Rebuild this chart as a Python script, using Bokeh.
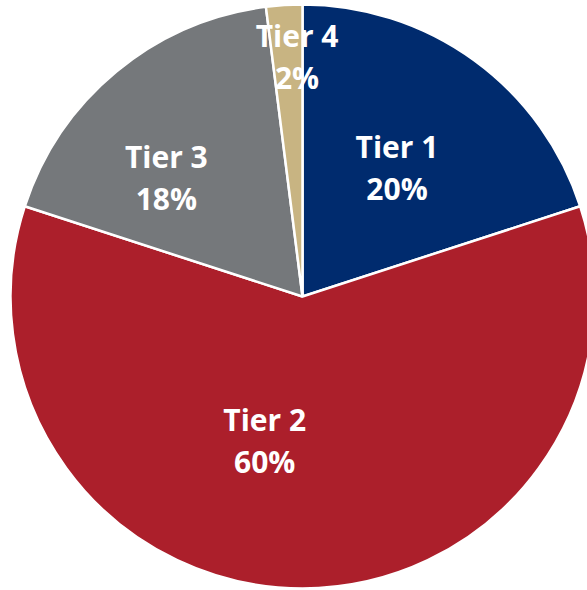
import math
from bokeh.plotting import figure
from bokeh.models import Range1d, ColumnDataSource
from bokeh.core.properties import value
from bokeh.embed import file_html
from bokeh.resources import INLINE

# ---- data ----
categories = ["Tier 1", "Tier 2", "Tier 3", "Tier 4"]
shares = [20, 60, 18, 2]
colors = ["#002B6E", "#AC1F2B", "#75787B", "#C8B482"]
pct_labels = ["20%", "60%", "18%", "2%"]
# label placement (polar, relative to pie centre): angle in degrees, radius in px
label_angle = [53.8, -104.7, 138.8, 91.3]
label_radius = [160, 149, 181, 240]

W, H = 587, 590
cx, cy, R = 302, 294, 292
line_gap = 21

total = sum(shares)
starts, ends = [], []
cum = 0.0
for s in shares:
    a0 = math.radians(90 - cum / total * 360)
    cum += s
    a1 = math.radians(90 - cum / total * 360)
    starts.append(a0)
    ends.append(a1)

src = ColumnDataSource(dict(x=[cx] * 4, y=[cy] * 4, start=starts, end=ends,
                            color=colors, cat=categories))

p = figure(width=W, height=H, output_backend="svg", toolbar_location=None,
           x_range=Range1d(0, W), y_range=Range1d(0, H), min_border=0)
p.axis.visible = False
p.grid.visible = False
p.outline_line_color = None
p.background_fill_color = "white"
p.border_fill_color = "white"

p.wedge(x="x", y="y", radius=R, start_angle="start", end_angle="end",
        direction="clock", fill_color="color", line_color="white",
        line_width=2.5, source=src)

lx, ly1, ly2 = [], [], []
for a, r in zip(label_angle, label_radius):
    x = cx + r * math.cos(math.radians(a))
    y = cy + r * math.sin(math.radians(a))
    lx.append(x)
    ly1.append(y + line_gap)
    ly2.append(y - line_gap)

common = dict(text_font=value("Open Sans"), text_font_style="bold",
              text_font_size="30px", text_color="white",
              text_align="center", text_baseline="middle")
p.text(x=lx, y=ly1, text=categories, **common)
p.text(x=lx, y=ly2, text=pct_labels, **common)

open("out.html", "w").write(file_html(p, INLINE))
